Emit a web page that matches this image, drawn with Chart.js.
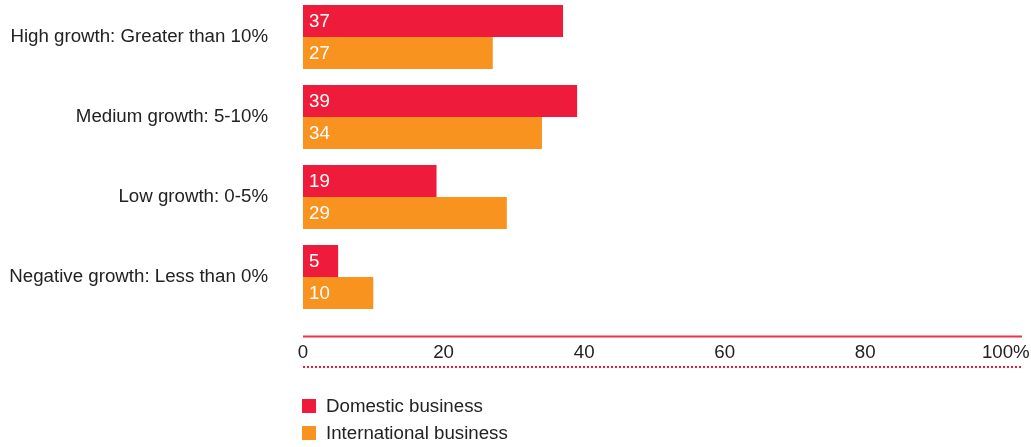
<!DOCTYPE html>
<html>
<head>
<meta charset="utf-8">
<script src="https://cdn.jsdelivr.net/npm/chart.js@4/dist/chart.umd.min.js"></script>
<style>
  html, body { margin: 0; padding: 0; background: #fff; overflow: hidden; }
  #wrap { position: absolute; left: 0; top: -3px; width: 1031px; height: 450px; }
</style>
</head>
<body>
<div id="wrap"><canvas id="chart" width="1031" height="450"></canvas></div>
<script>
// Revenue growth expectations, share of respondents (%)
const categories = [
  'High growth: Greater than 10%',
  'Medium growth: 5-10%',
  'Low growth: 0-5%',
  'Negative growth: Less than 0%'
];
const domestic = [37, 39, 19, 5];
const international = [27, 34, 29, 10];
const seriesNames = ['Domestic business', 'International business'];
const xTicks = [0, 20, 40, 60, 80, 100];

const RED = '#ee1c3a';
const ORANGE = '#f7931e';
const TEXT = '#222222';
const FONT = '"Liberation Sans", Arial, Helvetica, sans-serif';
const SIZE = 18.7;

// Axis rules, in-bar value labels and the stacked legend
const decorations = {
  id: 'decorations',
  afterDatasetsDraw(chart) {
    const ctx = chart.ctx;
    ctx.save();
    ctx.font = SIZE + 'px ' + FONT;
    ctx.fillStyle = '#ffffff';
    ctx.textAlign = 'left';
    ctx.textBaseline = 'middle';
    chart.data.datasets.forEach((ds, i) => {
      chart.getDatasetMeta(i).data.forEach((bar, j) => {
        ctx.fillText(String(ds.data[j]), bar.base + 6, bar.y + 1);
      });
    });
    ctx.restore();
  },
  afterDraw(chart) {
    const ctx = chart.ctx;
    const a = chart.chartArea;
    ctx.save();
    // solid axis rule
    ctx.strokeStyle = '#e8344c';
    ctx.lineWidth = 2;
    ctx.beginPath();
    ctx.moveTo(a.left, a.bottom + 19.5);
    ctx.lineTo(a.right, a.bottom + 19.5);
    ctx.stroke();
    // dotted rule under the tick labels
    ctx.strokeStyle = RED;
    ctx.lineWidth = 2;
    ctx.setLineDash([2, 2]);
    ctx.beginPath();
    ctx.moveTo(a.left, a.bottom + 50);
    ctx.lineTo(a.right, a.bottom + 50);
    ctx.stroke();
    ctx.setLineDash([]);
    // legend
    ctx.font = SIZE + 'px ' + FONT;
    ctx.textAlign = 'left';
    ctx.textBaseline = 'middle';
    chart.data.datasets.forEach((ds, i) => {
      const cy = a.bottom + 89 + i * 27;
      ctx.fillStyle = ds.backgroundColor;
      ctx.fillRect(a.left - 1, cy - 7, 14, 14);
      ctx.fillStyle = TEXT;
      ctx.fillText(ds.label, a.left + 23, cy + 1);
    });
    ctx.restore();
  }
};

new Chart(document.getElementById('chart'), {
  type: 'bar',
  data: {
    labels: categories,
    datasets: [
      { label: seriesNames[0], data: domestic, backgroundColor: RED },
      { label: seriesNames[1], data: international, backgroundColor: ORANGE }
    ]
  },
  options: {
    indexAxis: 'y',
    responsive: false,
    animation: false,
    events: [],
    layout: { padding: { right: 9, top: 0, left: 0, bottom: 0 } },
    datasets: { bar: { categoryPercentage: 0.8, barPercentage: 1.0, borderWidth: 0 } },
    plugins: { legend: { display: false }, tooltip: { enabled: false } },
    scales: {
      x: {
        type: 'linear',
        min: 0,
        max: 102.3,
        grid: { display: false, drawTicks: false },
        border: { display: false },
        afterBuildTicks(scale) { scale.ticks = xTicks.map(v => ({ value: v })); },
        afterFit(scale) {
          scale.height = 130;
          scale.paddingLeft = 0;
          scale.paddingRight = 0;
        },
        ticks: {
          padding: 25,
          color: TEXT,
          font: { family: FONT, size: SIZE },
          maxRotation: 0,
          callback: v => (v === 100 ? v + '%' : String(v))
        }
      },
      y: {
        type: 'category',
        grid: { display: false, drawTicks: false },
        border: { display: false },
        afterFit(scale) {
          scale.width = 303;
          scale.paddingTop = 0;
          scale.paddingBottom = 0;
        },
        ticks: {
          padding: 35,
          color: TEXT,
          font: { family: FONT, size: SIZE }
        }
      }
    }
  },
  plugins: [decorations]
});
</script>
</body>
</html>
